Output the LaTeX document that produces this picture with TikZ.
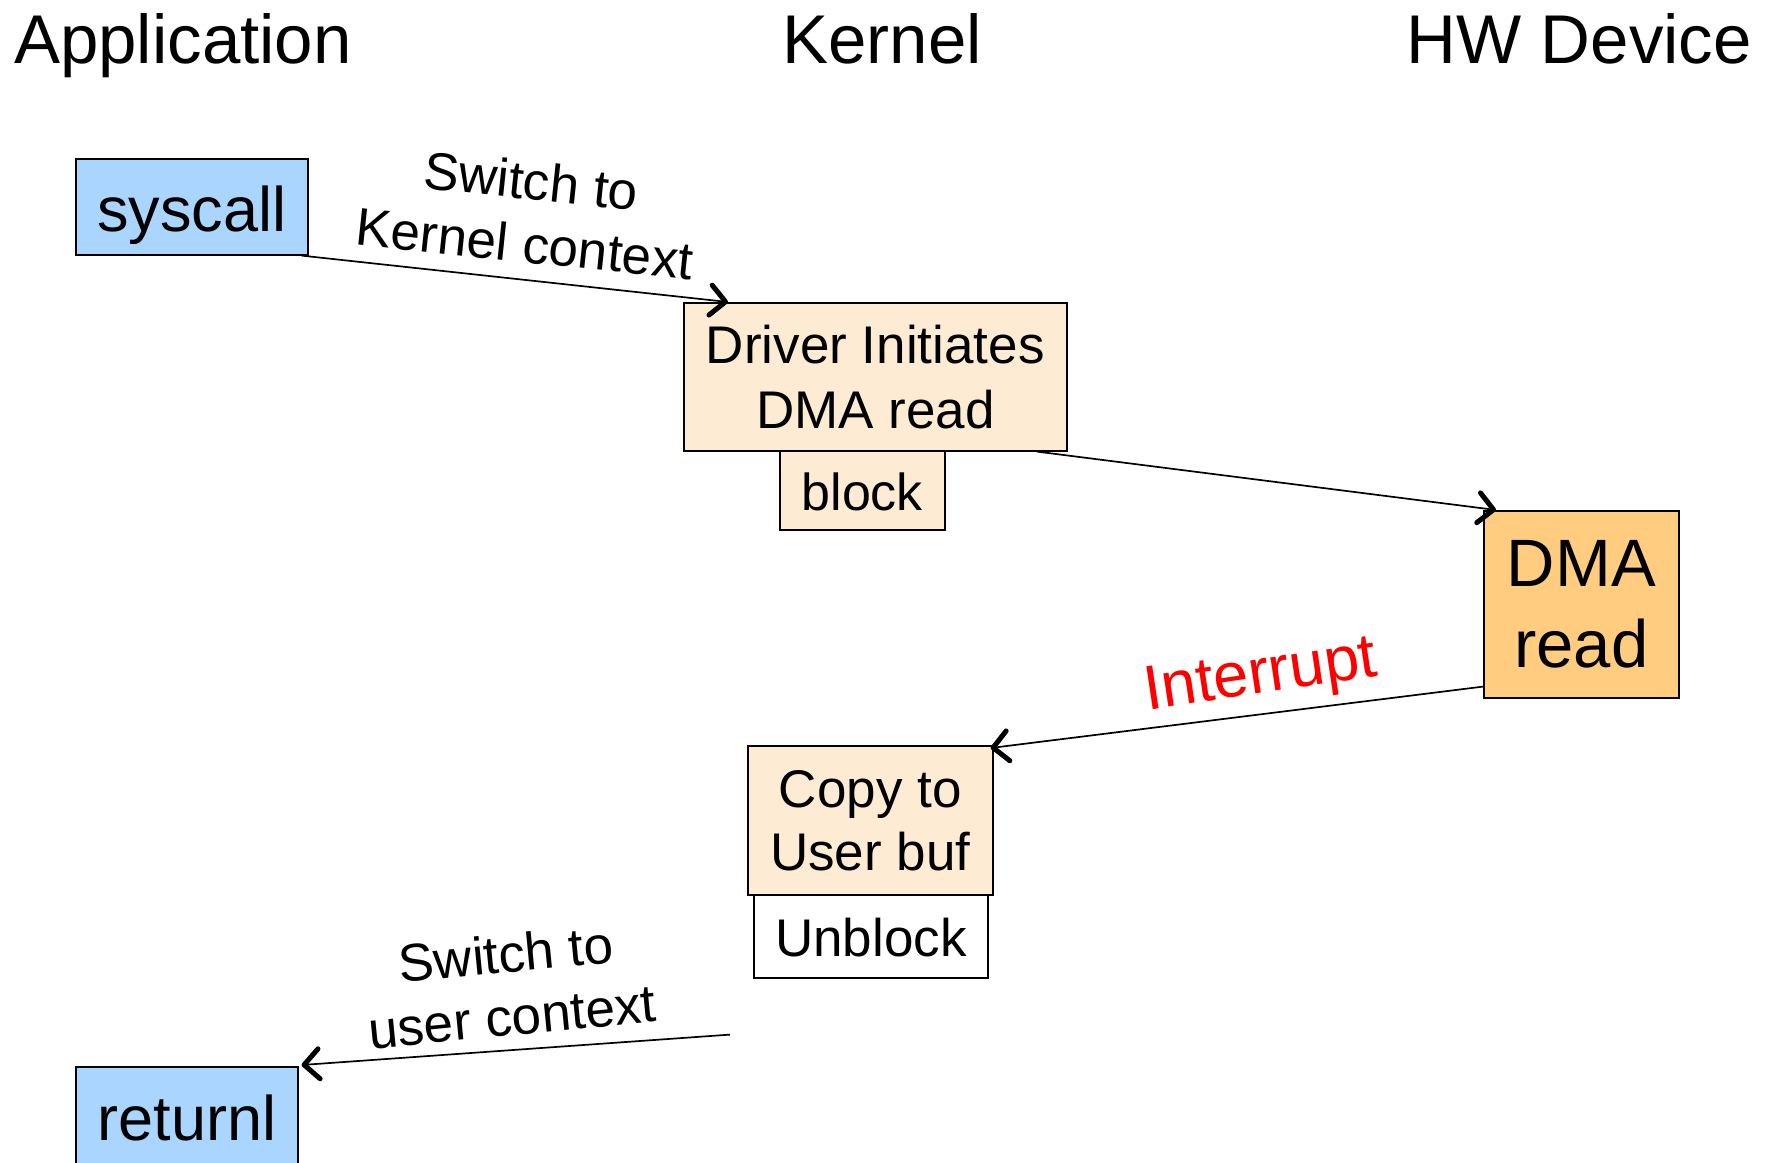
\documentclass[tikz,border=0pt]{standalone}
\usepackage{fontspec}
\setmainfont{Liberation Sans}
\usetikzlibrary{arrows.meta,calc}

\definecolor{appblue}{RGB}{170,213,255}
\definecolor{kernbg}{RGB}{253,235,211}
\definecolor{devbg}{RGB}{255,204,128}

% font size and line spacing in pt
\newcommand{\fsz}[2]{\fontsize{#1pt}{#2pt}\selectfont}

\tikzset{
  box/.style={draw=black, line width=1.6pt, anchor=north west, inner sep=0pt},
  coltitle/.style={font=\fsz{69}{80}, inner sep=0pt},
  lbl/.style={font=\fsz{53}{63}, align=center, inner sep=0pt},
  flow/.style={line width=1.7pt,
    -{Straight Barb[length=15pt,width=30pt,line width=5pt,round]}}
}

\begin{document}
\begin{tikzpicture}[x=1pt,y=-1pt]
\useasboundingbox (0,0) rectangle (1772,1162);
\clip (0,0) rectangle (1772,1162);

% column headings
\node[coltitle, anchor=base west] (tapp) at (14,63) {Application};
\node[coltitle, anchor=base] (tker) at (882,63) {Kernel};
\node[coltitle, anchor=base east] (thw) at (1752,63) {HW Device};

% application side
\node[box, fill=appblue, minimum width=232pt, text height=73pt, text depth=23pt,
      font=\fsz{63}{75}] (syscall) at (75,158) {syscall};
\node[box, fill=appblue, minimum width=222pt, text height=74pt, text depth=30pt,
      font=\fsz{63}{75}] (returnl) at (75,1066) {returnl};

% kernel side
\node[box, fill=kernbg, minimum width=383pt, minimum height=148pt, align=center,
      font=\fsz{53}{65}] (driver) at (683,302) {Driver Initiates\\DMA read};
\node[box, fill=kernbg, minimum width=165pt, text height=60pt, text depth=19pt,
      font=\fsz{52}{62}] (block) at (779,450) {block};
\node[box, fill=kernbg, minimum width=245pt, minimum height=149pt, align=center,
      font=\fsz{53}{63}] (copy) at (747,745) {Copy to\\User buf};
\node[box, fill=white, minimum width=234pt, text height=62pt, text depth=21pt,
      font=\fsz{53}{63}] (unblock) at (753,894) {Unblock};

% device side
\node[box, fill=devbg, minimum width=195pt, minimum height=187pt, align=center,
      font=\fsz{67}{81}] (dma) at (1483,510) {DMA\\read};

% transitions
\draw[flow] ($(syscall.south east)+(-7,0)$) -- ($(driver.north west)+(45,0)$);
\draw[flow] ($(driver.south west)+(354,0)$) -- ($(dma.north west)+(13,0)$);
\draw[flow] ($(dma.south west)+(0,-12)$) -- ($(copy.north east)+(-3,3)$);
\coordinate (retstart) at ($(unblock.south west)+(-23,56)$);
\draw[flow] (retstart) -- ($(returnl.north east)+(3,-1)$);

% transition labels
\node[lbl, rotate=-6] (lkern) at (528,212) {Switch to\\Kernel context};
\node[lbl, rotate=8.5, text=red, font=\fsz{63}{72}] (lint) at (1261,678) {Interrupt};
\node[lbl, rotate=5.5] (luser) at (509,985) {Switch to\\user context};
\end{tikzpicture}
\end{document}
